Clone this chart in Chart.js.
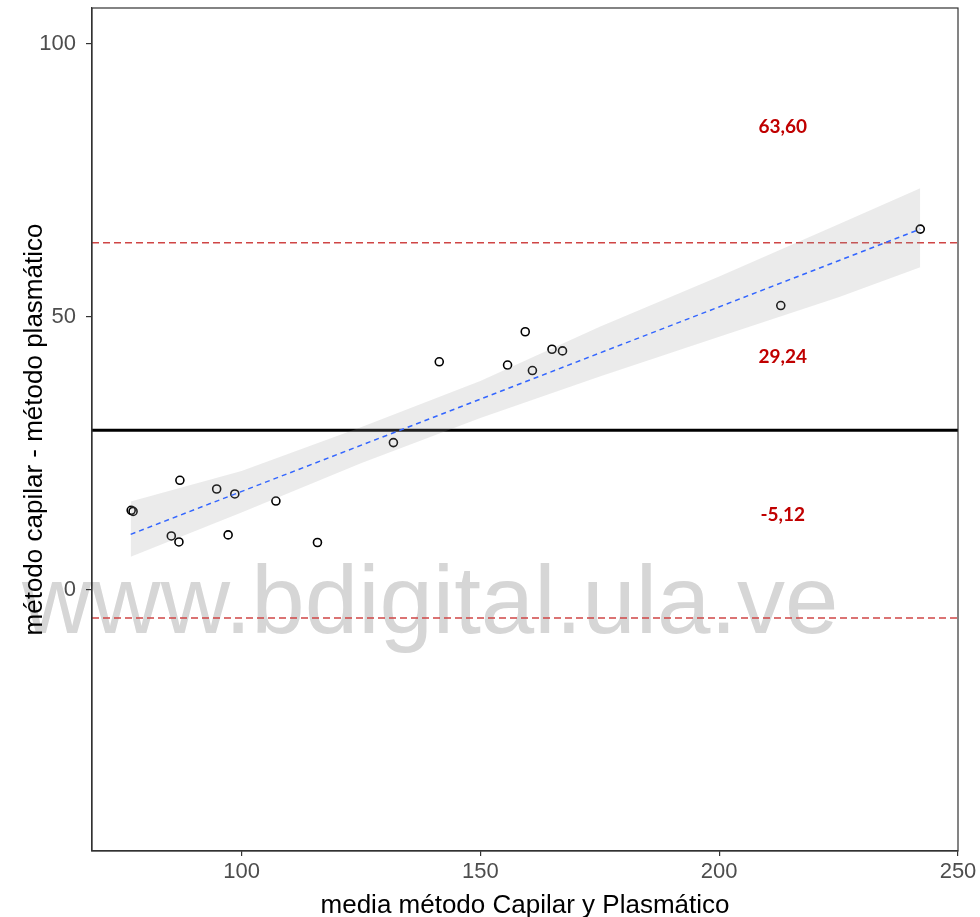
<!DOCTYPE html>
<html>
<head>
<meta charset="utf-8">
<script src="https://cdn.jsdelivr.net/npm/chart.js@4.4.1/dist/chart.umd.min.js"></script>
<style>
  html, body { margin: 0; padding: 0; background: #fff; }
  #wrap { width: 980px; height: 917px; }
</style>
</head>
<body>
<div id="wrap"><canvas id="myChart" width="980" height="917"></canvas></div>
<script>
// Media de ambos métodos (x) y diferencia capilar - plasmático (y)
const meanValues = [76.9, 77.3, 87.1, 94.8, 98.6, 107.2, 85.3, 86.9, 97.2, 115.9, 131.8, 141.4, 155.7, 159.4, 160.9, 165.0, 167.2, 212.9, 242.1];
const diffValues = [14.6, 14.4, 20.1, 18.5, 17.6, 16.3, 9.9, 8.8, 10.1, 8.7, 27.0, 41.8, 41.2, 47.3, 40.2, 44.1, 43.8, 52.1, 66.1];

// límites de concordancia y diferencia media
const upperLimit = 63.60;
const meanDiff = 29.24;
const lowerLimit = -5.12;

// recta de regresión y su banda de confianza
const fitX = [76.8, 242.1];
const fitY = [10.2, 66.1];
const bandX = [76.8, 100, 125, 150, 175, 200, 225, 242.1];
const bandUpper = [16.2, 21.8, 29.8, 38.3, 48.2, 57.4, 67.0, 73.6];
const bandLower = [6.1, 14.2, 23.2, 31.5, 39.1, 46.4, 53.6, 59.1];

const xTicks = [100, 150, 200, 250];
const yTicks = [0, 50, 100];
const xRange = [68.7, 250];
const yRange = [-47.8, 106.6];

const tickFont = { family: "'Liberation Sans', Arial, sans-serif", size: 22 };
const titleFont = { family: "'Liberation Sans', Arial, sans-serif", size: 26, lineHeight: 1 };

function toPoints(xs, ys) {
	return xs.map((x, i) => ({ x: x, y: ys[i] }));
}
function hline(value) {
	return [{ x: xRange[0], y: value }, { x: xRange[1], y: value }];
}
function fmt(v) {
	return v.toFixed(2).replace('.', ',');
}

// watermark sits under everything else
const watermark = {
	id: 'watermark',
	beforeDraw(chart) {
		const ctx = chart.ctx;
		ctx.save();
		ctx.font = "96px 'Liberation Sans', Arial, sans-serif";
		ctx.fillStyle = '#d6d6d6';
		ctx.textBaseline = 'alphabetic';
		ctx.textAlign = 'left';
		ctx.fillText('www.bdigital.ula.ve', 22, 633);
		ctx.restore();
	}
};

// value labels for the three horizontal lines, plus the panel frame
const labelX = 213.3;
const labelY = [84.8, 42.7, 13.7];
const overlay = {
	id: 'overlay',
	afterDatasetsDraw(chart) {
		const ctx = chart.ctx;
		const area = chart.chartArea;
		const xs = chart.scales.x;
		const ys = chart.scales.y;
		ctx.save();
		ctx.font = "bold 19px Lato, 'Open Sans', sans-serif";
		ctx.fillStyle = '#c00000';
		ctx.textAlign = 'center';
		ctx.textBaseline = 'middle';
		[upperLimit, meanDiff, lowerLimit].forEach(function (v, i) {
			ctx.fillText(fmt(v), xs.getPixelForValue(labelX), ys.getPixelForValue(labelY[i]));
		});
		ctx.strokeStyle = '#333333';
		ctx.lineWidth = 1.2;
		ctx.strokeRect(area.left, area.top, area.right - area.left, area.bottom - area.top);
		ctx.restore();
	}
};

const ctx = document.getElementById('myChart').getContext('2d');

new Chart(ctx, {
	type: 'scatter',
	data: {
		datasets: [
			{
				type: 'line',
				data: toPoints(fitX, fitY),
				borderColor: '#3366ff',
				borderWidth: 1.5,
				borderDash: [5, 4],
				pointRadius: 0,
				fill: false,
				order: 1
			},
			{
				type: 'line',
				data: toPoints(bandX, bandUpper),
				borderWidth: 0,
				borderColor: 'rgba(0,0,0,0)',
				backgroundColor: 'rgba(153,153,153,0.2)',
				pointRadius: 0,
				fill: '+1',
				order: 2
			},
			{
				type: 'line',
				data: toPoints(bandX, bandLower),
				borderWidth: 0,
				borderColor: 'rgba(0,0,0,0)',
				pointRadius: 0,
				fill: false,
				order: 2
			},
			{
				data: toPoints(meanValues, diffValues),
				pointRadius: 4,
				pointBorderWidth: 1.6,
				pointBorderColor: '#000',
				pointBackgroundColor: 'rgba(0,0,0,0)',
				showLine: false,
				order: 3
			},
			{
				type: 'line',
				data: hline(upperLimit),
				borderColor: '#cf4545',
				borderWidth: 1.5,
				borderDash: [7, 4],
				pointRadius: 0,
				fill: false,
				order: 4
			},
			{
				type: 'line',
				data: hline(lowerLimit),
				borderColor: '#cf4545',
				borderWidth: 1.5,
				borderDash: [7, 4],
				pointRadius: 0,
				fill: false,
				order: 4
			},
			{
				type: 'line',
				data: hline(meanDiff),
				borderColor: '#000',
				borderWidth: 3,
				pointRadius: 0,
				fill: false,
				order: 4
			}
		]
	},
	options: {
		responsive: false,
		animation: false,
		layout: { padding: { top: 8, right: 22, left: 0, bottom: 0 } },
		plugins: {
			legend: { display: false },
			tooltip: { enabled: false }
		},
		scales: {
			x: {
				type: 'linear',
				min: xRange[0],
				max: xRange[1],
				afterBuildTicks: (scale) => { scale.ticks = xTicks.map(v => ({ value: v })); },
				afterFit: (scale) => {
					scale.height = 66;
					scale.paddingLeft = 0;
					scale.paddingRight = 0;
				},
				grid: { drawOnChartArea: false, drawTicks: true, tickLength: 5, color: '#333333', lineWidth: 1.2 },
				border: { display: true, color: '#333333', width: 1.2 },
				ticks: { font: tickFont, color: '#4d4d4d', padding: 3, maxRotation: 0 },
				title: { display: true, text: 'media método Capilar y Plasmático', font: { ...titleFont, lineHeight: 0.85 }, color: '#000', padding: 0 }
			},
			y: {
				type: 'linear',
				min: yRange[0],
				max: yRange[1],
				afterBuildTicks: (scale) => { scale.ticks = yTicks.map(v => ({ value: v })); },
				afterFit: (scale) => {
					scale.width = 92;
					scale.paddingTop = 0;
					scale.paddingBottom = 0;
				},
				grid: { drawOnChartArea: false, drawTicks: true, tickLength: 6, color: '#333333', lineWidth: 1.2 },
				border: { display: true, color: '#333333', width: 1.2 },
				ticks: { font: tickFont, color: '#4d4d4d', padding: 10 },
				title: { display: true, text: 'método capilar - método plasmático', font: titleFont, color: '#000', padding: { top: 22, bottom: 0 } }
			}
		}
	},
	plugins: [watermark, overlay]
});
</script>
</body>
</html>
